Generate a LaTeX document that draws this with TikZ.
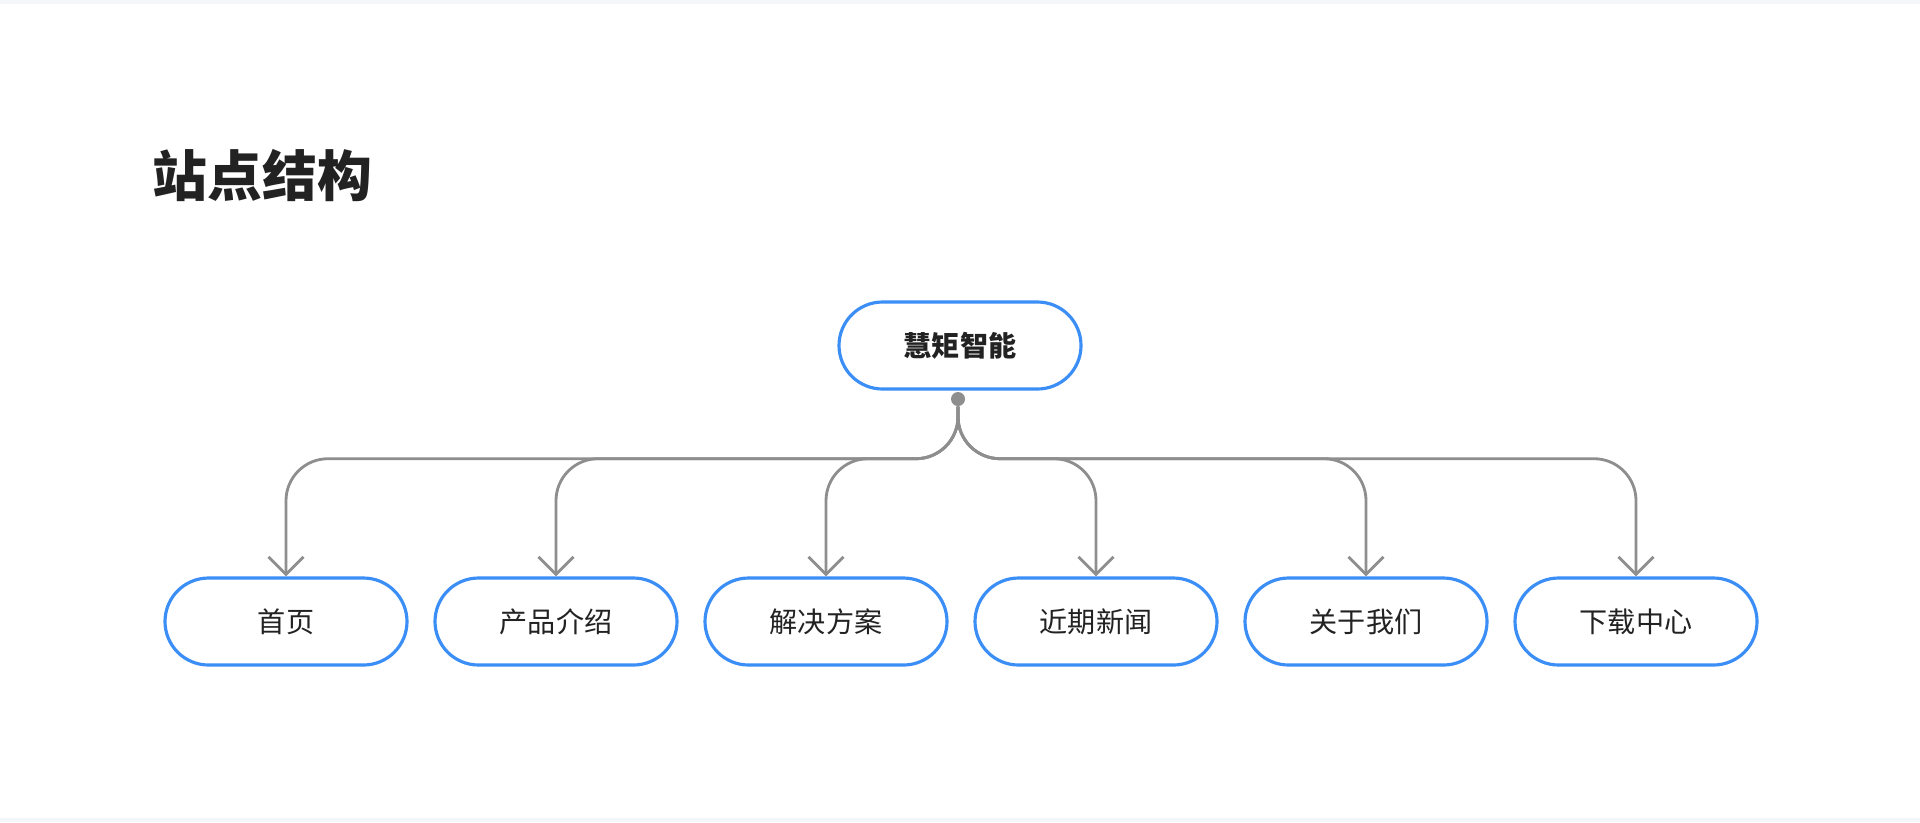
\documentclass[tikz,border=0pt]{standalone}
\usepackage{fontspec}
\setmainfont{Noto Sans CJK SC}
\usetikzlibrary{arrows.meta}
\definecolor{boxblue}{HTML}{3A8EF6}
\definecolor{linegray}{HTML}{8E8E8E}
\definecolor{textdark}{HTML}{222222}
\definecolor{bandgray}{HTML}{F5F6FA}

\begin{document}
\begin{tikzpicture}[
  box/.style={draw=boxblue, line width=0.9pt, rounded corners=0.435cm, minimum width=2.42cm, minimum height=0.87cm, fill=white, text=textdark, font=\fontsize{8}{10}\selectfont},
  link/.style={draw=linegray, line width=0.8pt, rounded corners=0.42cm, -{Straight Barb[length=5pt,width=10pt]}},
  node distance=2.7cm]
\fill [white] (0,0) rectangle (19.2,-8.22);
\fill [bandgray] (0,0) rectangle (19.2,-0.04);
\fill [bandgray] (0,-8.18) rectangle (19.2,-8.22);
\node [anchor=west, inner sep=0, text=textdark, font=\fontsize{15.6}{18}\selectfont\bfseries] (title) at (1.52,-1.76) {站点结构};
\node [box, font=\fontsize{8}{10}\selectfont\bfseries] (root) at (9.6,-3.455) {慧矩智能};
\node [box] (home) at (2.86,-6.215) {首页};
\node [box, right of=home] (prod) {产品介绍};
\node [box, right of=prod] (plan) {解决方案};
\node [box, right of=plan] (news) {近期新闻};
\node [box, right of=news] (about) {关于我们};
\node [box, right of=about] (down) {下载中心};
\node [circle, fill=linegray, inner sep=0, minimum size=0.14cm] (dot) at (9.58,-3.99) {};
\draw [link] (dot.south) -- ++(0,-0.52) -| (home.north);
\draw [link] (dot.south) -- ++(0,-0.52) -| (prod.north);
\draw [link] (dot.south) -- ++(0,-0.52) -| (plan.north);
\draw [link] (dot.south) -- ++(0,-0.52) -| (news.north);
\draw [link] (dot.south) -- ++(0,-0.52) -| (about.north);
\draw [link] (dot.south) -- ++(0,-0.52) -| (down.north);
\end{tikzpicture}
\end{document}
